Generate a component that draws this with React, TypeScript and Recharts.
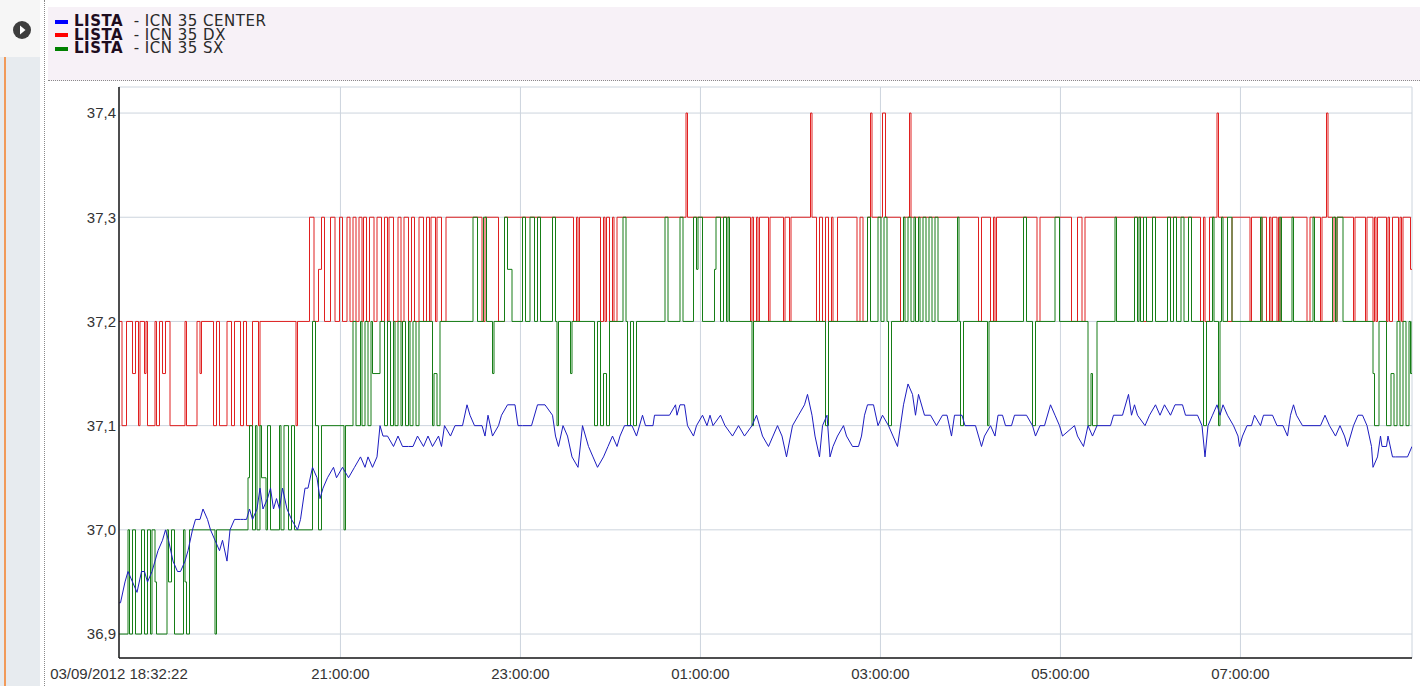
import React from 'react';
import { LineChart, Line, XAxis, YAxis, CartesianGrid } from 'recharts';

// [minutes since 18:32:22, temperature]
const centerPoints: [number, number][] = [
  [0, 36.93], [1, 36.93], [4, 36.95], [6, 36.96], [9, 36.95], [12, 36.94], [15, 36.96], [17, 36.96], [19, 36.95], [22, 36.96],
  [24, 36.97], [26, 36.98], [29, 36.99], [31, 37.0], [33, 36.99], [36, 36.97], [39, 36.96], [41, 36.96], [44, 36.97], [46, 36.98],
  [49, 37.0], [51, 37.01], [54, 37.01], [56, 37.02], [59, 37.01], [61, 37.0], [64, 36.99], [67, 36.98], [69, 36.99], [72, 36.97],
  [74, 37.0], [77, 37.01], [81, 37.01], [83, 37.01], [85, 37.01], [87, 37.02], [89, 37.01], [92, 37.02], [94, 37.04], [96, 37.02],
  [99, 37.03], [101, 37.04], [103, 37.02], [105, 37.03], [107, 37.02], [109, 37.04], [112, 37.02], [115, 37.01], [119, 37.0], [121, 37.01],
  [124, 37.04], [126, 37.04], [129, 37.06], [132, 37.05], [134, 37.03], [136, 37.04], [139, 37.05], [143, 37.06], [145, 37.05], [149, 37.06],
  [153, 37.05], [157, 37.06], [161, 37.07], [164, 37.06], [166, 37.07], [169, 37.06], [172, 37.07], [174, 37.1], [176, 37.09], [179, 37.09],
  [183, 37.08], [186, 37.09], [189, 37.08], [193, 37.08], [196, 37.08], [199, 37.09], [203, 37.08], [206, 37.09], [209, 37.08], [213, 37.09],
  [215, 37.08], [217, 37.1], [221, 37.09], [224, 37.1], [229, 37.1], [232, 37.12], [234, 37.11], [237, 37.1], [242, 37.1], [244, 37.09],
  [246, 37.11], [249, 37.09], [253, 37.1], [255, 37.11], [259, 37.12], [264, 37.12], [266, 37.1], [269, 37.1], [275, 37.1], [279, 37.12],
  [284, 37.12], [289, 37.11], [291, 37.09], [293, 37.08], [296, 37.1], [299, 37.09], [302, 37.07], [306, 37.06], [309, 37.1], [313, 37.08],
  [316, 37.07], [319, 37.06], [323, 37.07], [326, 37.08], [329, 37.09], [332, 37.08], [334, 37.09], [337, 37.1], [342, 37.1], [345, 37.09],
  [349, 37.11], [351, 37.1], [356, 37.1], [357, 37.11], [367, 37.11], [371, 37.12], [372, 37.11], [374, 37.12], [377, 37.12], [379, 37.1],
  [383, 37.09], [385, 37.1], [389, 37.11], [392, 37.1], [394, 37.11], [396, 37.1], [401, 37.11], [404, 37.1], [409, 37.09], [413, 37.1],
  [417, 37.09], [422, 37.1], [425, 37.11], [429, 37.09], [433, 37.08], [436, 37.09], [439, 37.1], [442, 37.09], [445, 37.07], [449, 37.1],
  [453, 37.11], [457, 37.12], [459, 37.13], [462, 37.11], [464, 37.09], [467, 37.07], [469, 37.1], [472, 37.11], [474, 37.07], [476, 37.08],
  [479, 37.09], [483, 37.1], [485, 37.09], [489, 37.08], [493, 37.08], [495, 37.09], [497, 37.11], [499, 37.12], [503, 37.12], [506, 37.1],
  [509, 37.11], [513, 37.1], [516, 37.09], [519, 37.08], [521, 37.1], [523, 37.12], [526, 37.14], [529, 37.13], [531, 37.11], [533, 37.13],
  [537, 37.11], [541, 37.11], [545, 37.1], [549, 37.11], [552, 37.11], [555, 37.09], [557, 37.11], [562, 37.11], [564, 37.1], [571, 37.1],
  [575, 37.08], [577, 37.09], [581, 37.1], [584, 37.09], [586, 37.11], [589, 37.11], [591, 37.1], [595, 37.1], [597, 37.11], [605, 37.11],
  [609, 37.1], [611, 37.09], [614, 37.1], [617, 37.1], [621, 37.12], [624, 37.11], [627, 37.1], [629, 37.09], [637, 37.1], [639, 37.09],
  [643, 37.08], [646, 37.1], [649, 37.09], [652, 37.1], [661, 37.1], [663, 37.11], [669, 37.11], [673, 37.13], [675, 37.11], [677, 37.12],
  [679, 37.11], [684, 37.1], [687, 37.11], [691, 37.12], [694, 37.11], [697, 37.12], [701, 37.11], [704, 37.12], [709, 37.12], [711, 37.11],
  [719, 37.11], [722, 37.1], [724, 37.07], [726, 37.1], [729, 37.11], [732, 37.12], [734, 37.11], [736, 37.12], [739, 37.11], [743, 37.1],
  [746, 37.09], [747, 37.08], [749, 37.09], [752, 37.1], [755, 37.1], [757, 37.11], [761, 37.1], [763, 37.11], [769, 37.11], [772, 37.1],
  [776, 37.1], [779, 37.09], [781, 37.11], [783, 37.12], [785, 37.11], [789, 37.1], [801, 37.1], [804, 37.11], [807, 37.1], [811, 37.09],
  [814, 37.1], [817, 37.09], [819, 37.08], [823, 37.1], [826, 37.11], [829, 37.11], [832, 37.1], [835, 37.08], [836, 37.06], [839, 37.07],
  [841, 37.09], [842, 37.08], [845, 37.08], [846, 37.09], [849, 37.07], [851, 37.07], [859, 37.07], [862, 37.08],
];

// change points [minutes, value]
const dxPoints: [number, number][] = [
  [0, 37.2], [2, 37.1], [5, 37.2], [9, 37.15], [11, 37.2], [13, 37.1], [14, 37.2], [17, 37.15], [18, 37.2], [19, 37.1],
  [24, 37.2], [25, 37.1], [27, 37.2], [29, 37.15], [31, 37.2], [34, 37.1], [44, 37.2], [45, 37.1], [52, 37.2], [54, 37.15],
  [55, 37.2], [63, 37.1], [65, 37.2], [67, 37.1], [72, 37.2], [75, 37.1], [77, 37.2], [81, 37.1], [83, 37.2], [85, 37.1],
  [89, 37.2], [93, 37.1], [94, 37.2], [118, 37.1], [119, 37.2],
  [127, 37.3], [130, 37.2], [133, 37.25], [135, 37.3], [137, 37.2], [141, 37.3], [144, 37.2], [147, 37.3], [149, 37.2], [152, 37.3],
  [154, 37.2], [156, 37.3], [158, 37.2], [160, 37.3], [162, 37.2], [163, 37.3], [165, 37.2], [167, 37.3], [170, 37.2], [172, 37.3],
  [175, 37.2], [177, 37.3], [179, 37.2], [180, 37.3], [183, 37.2], [186, 37.3], [188, 37.2], [190, 37.3], [193, 37.2], [195, 37.3],
  [197, 37.2], [200, 37.3], [203, 37.2], [205, 37.3], [207, 37.2], [208, 37.3], [211, 37.2], [212, 37.3], [215, 37.2], [218, 37.3],
  [242, 37.2], [244, 37.3], [253, 37.2], [257, 37.3], [303, 37.2], [305, 37.3], [306, 37.2], [307, 37.3], [321, 37.2], [323, 37.3],
  [324, 37.2], [325, 37.3], [327, 37.2], [329, 37.3], [330, 37.2], [332, 37.3], [378, 37.4], [379, 37.3], [421, 37.2], [422, 37.3],
  [423, 37.2], [425, 37.3], [426, 37.2], [427, 37.3], [433, 37.2], [434, 37.3], [443, 37.2], [444, 37.3], [447, 37.2], [448, 37.3],
  [461, 37.4], [462, 37.3], [465, 37.2], [467, 37.3], [469, 37.2], [471, 37.3], [473, 37.2], [475, 37.3], [476, 37.2], [479, 37.3],
  [492, 37.2], [494, 37.3], [496, 37.2], [499, 37.3], [501, 37.4], [502, 37.3], [509, 37.4], [511, 37.3], [521, 37.2], [523, 37.3],
  [527, 37.4], [528, 37.3], [573, 37.2], [575, 37.3], [581, 37.2], [583, 37.3], [584, 37.2], [585, 37.3], [612, 37.2], [614, 37.3],
  [635, 37.2], [639, 37.3], [642, 37.2], [644, 37.3], [683, 37.2], [685, 37.3], [721, 37.2], [723, 37.3], [724, 37.2], [727, 37.3],
  [732, 37.4], [733, 37.3], [739, 37.2], [742, 37.3], [754, 37.2], [755, 37.3], [761, 37.2], [762, 37.3], [765, 37.2], [767, 37.3],
  [768, 37.2], [769, 37.3], [772, 37.2], [773, 37.3], [774, 37.2], [775, 37.3], [792, 37.2], [794, 37.3], [801, 37.2], [802, 37.3],
  [805, 37.4], [806, 37.3], [809, 37.2], [810, 37.3], [811, 37.2], [812, 37.3], [823, 37.2], [824, 37.3], [831, 37.2], [832, 37.3],
  [836, 37.2], [837, 37.3], [838, 37.2], [839, 37.3], [845, 37.2], [846, 37.3], [847, 37.2], [849, 37.3], [853, 37.2], [854, 37.3],
  [855, 37.2], [856, 37.3], [861, 37.25], [862, 37.25],
];

const sxPoints: [number, number][] = [
  [0, 36.9], [6, 37.0], [7, 36.9], [9, 37.0], [11, 36.9], [15, 37.0], [17, 36.9], [19, 37.0], [21, 36.9], [22, 37.0],
  [24, 36.95], [25, 36.9], [32, 37.0], [33, 36.95], [35, 37.0], [37, 36.9], [43, 37.0], [44, 36.95], [45, 36.9], [47, 37.0],
  [64, 36.9], [65, 37.0], [86, 37.05], [87, 37.1], [89, 37.0], [91, 37.1], [92, 37.0], [94, 37.1], [95, 37.05], [98, 37.0],
  [99, 37.1], [101, 37.0], [107, 37.1], [108, 37.0], [110, 37.1], [113, 37.0], [115, 37.1], [117, 37.0], [129, 37.2], [131, 37.1],
  [133, 37.0], [135, 37.1], [150, 37.0], [151, 37.1], [156, 37.2], [158, 37.1], [161, 37.2], [162, 37.1], [164, 37.2], [166, 37.1],
  [168, 37.2], [169, 37.15], [174, 37.2], [177, 37.1], [179, 37.2], [181, 37.1], [183, 37.2], [184, 37.1], [186, 37.2], [188, 37.1],
  [189, 37.2], [191, 37.1], [193, 37.2], [194, 37.1], [196, 37.2], [198, 37.1], [200, 37.2], [209, 37.1], [210, 37.15], [212, 37.1],
  [214, 37.2], [236, 37.3], [239, 37.2], [243, 37.3], [245, 37.2], [249, 37.15], [250, 37.2], [257, 37.3], [259, 37.25], [262, 37.2],
  [269, 37.3], [271, 37.2], [274, 37.3], [277, 37.2], [279, 37.3], [281, 37.2], [289, 37.3], [291, 37.2], [292, 37.1], [293, 37.2],
  [301, 37.15], [302, 37.2], [317, 37.1], [319, 37.2], [321, 37.1], [323, 37.15], [325, 37.1], [327, 37.2], [336, 37.3], [338, 37.2],
  [339, 37.1], [341, 37.2], [343, 37.1], [345, 37.2], [364, 37.3], [366, 37.2], [374, 37.3], [376, 37.2], [383, 37.3], [385, 37.25],
  [386, 37.3], [389, 37.2], [397, 37.25], [398, 37.3], [401, 37.2], [403, 37.3], [405, 37.2], [406, 37.3], [407, 37.2], [422, 37.1],
  [423, 37.2], [471, 37.1], [473, 37.2], [499, 37.3], [501, 37.2], [506, 37.3], [508, 37.2], [510, 37.3], [512, 37.2], [513, 37.1],
  [515, 37.2], [523, 37.3], [524, 37.2], [526, 37.3], [528, 37.2], [530, 37.3], [531, 37.2], [533, 37.3], [534, 37.2], [536, 37.3],
  [538, 37.2], [540, 37.3], [542, 37.2], [544, 37.3], [546, 37.2], [559, 37.3], [560, 37.2], [561, 37.1], [563, 37.2], [579, 37.1],
  [580, 37.2], [603, 37.3], [605, 37.2], [609, 37.1], [611, 37.2], [624, 37.3], [627, 37.2], [646, 37.1], [648, 37.15], [649, 37.1],
  [652, 37.2], [664, 37.3], [665, 37.2], [677, 37.3], [679, 37.2], [680, 37.3], [681, 37.2], [683, 37.3], [685, 37.2], [689, 37.3],
  [691, 37.2], [699, 37.3], [701, 37.2], [703, 37.3], [705, 37.2], [708, 37.3], [710, 37.2], [713, 37.3], [715, 37.2], [723, 37.1],
  [725, 37.2], [729, 37.3], [730, 37.2], [733, 37.1], [734, 37.2], [735, 37.3], [736, 37.2], [739, 37.3], [742, 37.2], [761, 37.3],
  [762, 37.2], [774, 37.3], [775, 37.2], [782, 37.3], [783, 37.2], [796, 37.3], [797, 37.2], [809, 37.3], [811, 37.2], [812, 37.3],
  [816, 37.2], [836, 37.15], [837, 37.1], [840, 37.2], [845, 37.1], [848, 37.15], [850, 37.1], [852, 37.2], [854, 37.1], [856, 37.2],
  [858, 37.1], [860, 37.2], [861, 37.15], [862, 37.2],
];

const yTicks = [36.9, 37.0, 37.1, 37.2, 37.3, 37.4];
const startDate = '03/09/2012';
const startTime = '18:32:22';
const xTickTimes = ['18:32:22', '21:00:00', '23:00:00', '01:00:00', '03:00:00', '05:00:00', '07:00:00'];
const legendItems = [
  { name: 'ICN 35 CENTER', color: '#0000ff' },
  { name: 'ICN 35 DX', color: '#ff0000' },
  { name: 'ICN 35 SX', color: '#008000' },
];

const secs = (s: string) => {
  const [h, m, sec] = s.split(':').map(Number);
  return h * 3600 + m * 60 + sec;
};
const start = secs(startTime);
const xTicks = xTickTimes.map((s) => {
  let d = secs(s) - start;
  if (d < 0) d += 86400;
  return d / 60;
});
const xLabel = (v: number) => {
  const i = xTicks.findIndex((t) => Math.abs(t - v) < 0.01);
  if (i === 0) return `${startDate} ${startTime}`;
  return i >= 0 ? xTickTimes[i] : '';
};
const rows = (pts: [number, number][]) => pts.map(([t, v]) => ({ t, v }));

const tickStyle = { fontFamily: 'Liberation Sans, Arial, sans-serif', fontSize: 15, fill: '#333' };

export default function App() {
  return (
    <div style={{ position: 'fixed', left: 0, top: 0, width: 1420, height: 686, background: '#fff', overflow: 'hidden' }}>
      {/* side bar */}
      <div style={{ position: 'absolute', left: 0, top: 0, width: 40, height: 57, background: '#f6f6f6' }} />
      <div style={{ position: 'absolute', left: 0, top: 57, width: 40, height: 629, background: '#e7ebef' }} />
      <div style={{ position: 'absolute', left: 4, top: 57, width: 2, height: 629, background: '#f19a5a' }} />
      <svg style={{ position: 'absolute', left: 12, top: 20 }} width={20} height={20}>
        <circle cx={10} cy={10} r={9} fill="#3d3d3d" />
        <path d="M8 5.5 L13.5 10 L8 14.5 Z" fill="#fff" />
      </svg>
      <div style={{ position: 'absolute', left: 44, top: 0, height: 686, borderLeft: '1px dotted #8a8a8a' }} />

      {/* legend panel */}
      <div style={{ position: 'absolute', left: 48, top: 7, width: 1372, height: 73, background: '#f7f1f7', borderBottom: '1px dotted #8a8a8a' }}>
        {legendItems.map((s, i) => (
          <div
            key={s.name}
            style={{
              position: 'absolute', left: 7, top: 8 + i * 13.5, height: 13, display: 'flex', alignItems: 'center',
              fontFamily: 'DejaVu Sans, Verdana, sans-serif', fontSize: 15, lineHeight: '13px', whiteSpace: 'pre',
              letterSpacing: 0.5,
            }}
          >
            <span style={{ display: 'inline-block', width: 13, height: 4, background: s.color, marginRight: 6 }} />
            <span style={{ fontWeight: 'bold', color: '#1e0c1e', lineHeight: '13px' }}>LISTA</span>
            <span style={{ color: '#2a2a2a', lineHeight: '13px' }}>{'  - ' + s.name}</span>
          </div>
        ))}
      </div>

      <div style={{ position: 'absolute', left: 0, top: 80 }}>
        <LineChart width={1420} height={606} margin={{ top: 7, right: 8, bottom: 0, left: 0 }}>
          <CartesianGrid stroke="#ccd4dd" strokeWidth={1} />
          <XAxis
            type="number"
            dataKey="t"
            domain={[0, 862]}
            allowDataOverflow
            ticks={xTicks}
            tickFormatter={xLabel}
            height={28}
            tickLine={false}
            tickSize={0}
            tickMargin={10}
            axisLine={{ stroke: '#1a1a1a', strokeWidth: 1.5 }}
            tick={tickStyle}
            interval={0}
          />
          <YAxis
            type="number"
            domain={[36.877, 37.425]}
            allowDataOverflow
            ticks={yTicks}
            tickFormatter={(v: number) => v.toFixed(1).replace('.', ',')}
            width={119}
            tickLine={false}
            tickSize={0}
            tickMargin={3}
            axisLine={{ stroke: '#1a1a1a', strokeWidth: 1.5 }}
            tick={tickStyle}
            interval={0}
          />
          <Line data={rows(dxPoints)} dataKey="v" type="stepAfter" stroke="#e02020" strokeWidth={1} dot={false} isAnimationActive={false} />
          <Line data={rows(sxPoints)} dataKey="v" type="stepAfter" stroke="#167d16" strokeWidth={1} dot={false} isAnimationActive={false} />
          <Line data={rows(centerPoints)} dataKey="v" type="linear" stroke="#1c1cc0" strokeWidth={1} dot={false} isAnimationActive={false} />
        </LineChart>
      </div>
    </div>
  );
}
